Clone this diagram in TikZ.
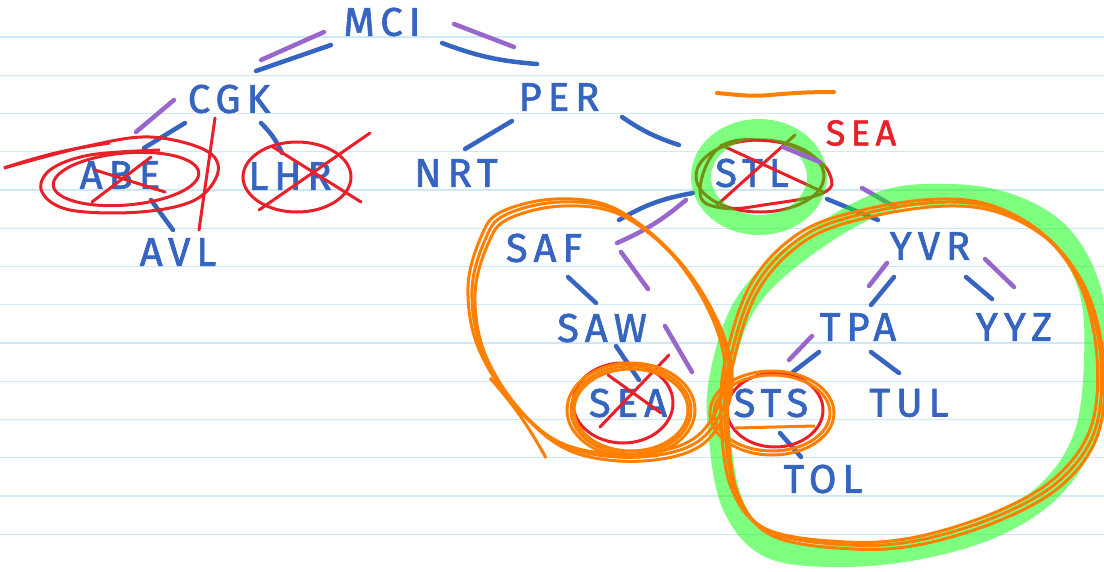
\documentclass[tikz,border=0pt]{standalone}
\usepackage{fontspec}
\newfontfamily\hand[LetterSpace=15,FakeBold=1.6]{Fira Sans}
\usetikzlibrary{calc}
\definecolor{ink}{HTML}{3565C0}
\definecolor{pen}{HTML}{9966CC}
\definecolor{redpen}{HTML}{E8202A}
\definecolor{orpen}{HTML}{FF7F00}
\definecolor{hl}{HTML}{00FF00}
\definecolor{ruleline}{HTML}{CFE8F6}
\begin{document}
\begin{tikzpicture}[x=1pt,y=-1pt,
  lbl/.style={font=\hand\fontsize{40}{40}\selectfont, text=ink, inner sep=0pt},
  redlbl/.style={font=\hand\fontsize{36}{36}\selectfont, text=redpen, inner sep=0pt},
  edge/.style={draw=ink, line width=4.5pt, line cap=round},
  trace/.style={draw=pen, line width=4.5pt, line cap=round},
  cross/.style={draw=redpen, line width=3pt, line cap=round},
  redloop/.style={draw=redpen, line width=3pt},
  orloop/.style={draw=orpen, line width=3pt},
  hilite/.style={draw=hl, draw opacity=0.5, line width=22pt}]
\useasboundingbox (0,0) rectangle (1104,571);
\fill[white] (0,0) rectangle (1104,571);
\foreach \k in {0,...,13} \draw[ruleline, line width=1.3pt] (0,{37+38.25*\k}) -- (1104,{37+38.25*\k});

% labels
\node[lbl] (MCI) at (382,22) {MCI};
\node[lbl] (CGK) at (229,99) {CGK};
\node[lbl] (PER) at (559,97) {PER};
\node[lbl] (ABE) at (120,175) {ABE};
\node[lbl] (LHR) at (290,176) {LHR};
\node[lbl] (NRT) at (456,173) {NRT};
\node[lbl] (AVL) at (178,252) {AVL};
\node[lbl] (STL) at (752,173) {STL};
\node[lbl] (SAF) at (544,248) {SAF};
\node[lbl] (SAW) at (602,328) {SAW};
\node[lbl] (SEA) at (628,403) {SEA};
\node[lbl] (YVR) at (930,246) {YVR};
\node[lbl] (TPA) at (858,327) {TPA};
\node[lbl] (YYZ) at (1014,327) {YYZ};
\node[lbl] (STS) at (771,403) {STS};
\node[lbl] (TUL) at (909,403) {TUL};
\node[lbl] (TOL) at (823,479) {TOL};
\node[redlbl] (SEAnote) at (861,133) {SEA};

% tree edges
\draw[edge] ($(MCI)+(-51,23)$) -- ($(CGK)+(27,-28)$);
\draw[edge] ($(MCI)+(60,21)$) to[bend right=8] ($(PER)+(-22,-33)$);
\draw[edge] ($(CGK)+(-44,24)$) -- ($(ABE)+(24,-27)$);
\draw[edge] ($(CGK)+(32,24)$) to[bend left=10] ($(LHR)+(-8,-23)$);
\draw[edge] ($(ABE)+(31,25)$) -- ($(AVL)+(-5,-22)$);
\draw[edge] ($(PER)+(-47,24)$) -- ($(NRT)+(9,-24)$);
\draw[edge] ($(PER)+(63,20)$) to[bend right=8] ($(STL)+(-73,-28)$);
\draw[edge] ($(STL)+(-59,20)$) to[bend right=10] ($(SAF)+(75,-28)$);
\draw[edge] ($(STL)+(75,26)$) -- ($(YVR)+(-52,-26)$);
\draw[edge] ($(SAF)+(24,29)$) -- ($(SAW)+(-6,-25)$);
\draw[edge] ($(SAW)+(14,18)$) -- ($(SEA)+(11,-23)$);
\draw[edge] ($(YVR)+(-36,31)$) -- ($(TPA)+(13,-22)$);
\draw[edge] ($(YVR)+(36,31)$) -- ($(YYZ)+(-22,-28)$);
\draw[edge] ($(TPA)+(-39,25)$) -- ($(STS)+(22,-31)$);
\draw[edge] ($(TPA)+(13,25)$) -- ($(TUL)+(-10,-30)$);
\draw[edge] ($(STS)+(9,30)$) -- ($(TOL)+(-22,-22)$);

% purple traversal marks
\draw[trace] (261,60) -- (324,32);
\draw[trace] (454,24) -- (514,47);
\draw[trace] (136,132) -- (174,100);
\draw[trace] (686,200) to[bend left=8] (617,243);
\draw[trace] (862,188) -- (895,207);
\draw[trace] (621,252) -- (648,289);
\draw[trace] (665,326) -- (692,372);
\draw[trace] (887,263) -- (869,286);
\draw[trace] (985,259) -- (1014,287);
\draw[trace] (812,336) -- (789,360);

% red marks
\draw[redloop, rotate around={5:(126,179)}] (126,179) ellipse [x radius=73, y radius=26];
\draw[redloop] plot[smooth, tension=0.6] coordinates {(4,168) (88,146) (150,137) (205,150) (218,172) (195,200) (140,212) (70,210) (42,192) (50,170) (90,155) (160,150)};
\draw[redloop] (4,168) to[bend left=5] (110,143);
\draw[cross] (92,202) -- (151,157);
\draw[cross] (95,170) -- (165,192);
\draw[cross] (215,118) -- (199,230);
\draw[redloop] (297,177) ellipse [x radius=54, y radius=35];
\draw[cross] (259,210) -- (370,133);
\draw[cross] (273,147) -- (361,202);
\draw[redloop] (760,176) ellipse [x radius=64, y radius=36];
\draw[redloop] plot[smooth cycle, tension=0.7] coordinates {(720,147) (770,141) (810,155) (830,175) (823,193) (770,204) (722,208) (700,192)};
\draw[cross] (717,205) -- (795,135);
\draw[cross] (721,145) -- (823,192);
\draw[redloop] (623,403) ellipse [x radius=50, y radius=40];
\draw[cross] (600,427) -- (669,355);
\draw[cross] (608,375) -- (661,413);
\draw[redloop] (775,410) ellipse [x radius=48, y radius=37];

% green highlights
\draw[hilite, line width=20pt] (759,177) ellipse [x radius=58, y radius=48];
\draw[trace] (783,147) -- (820,162);
\draw[hilite] plot[smooth cycle, tension=0.6] coordinates {(880,203) (949,195) (1010,205) (1060,235) (1090,290) (1095,360) (1085,435) (1050,490) (990,528) (910,550) (830,556) (768,546) (733,505) (720,440) (720,380) (745,305) (800,250)};

% orange marks
\draw[orpen, line width=4pt, line cap=round] (717,93) to[out=-5,in=185] (770,95) to[out=5,in=180] (834,92);
\foreach \dx/\dy in {0/0, -4/-3, 3/4}
  \draw[orloop, shift={(\dx,\dy)}] plot[smooth cycle, tension=0.6] coordinates {(505,215) (560,202) (620,212) (680,262) (720,330) (728,390) (700,440) (640,457) (570,448) (520,410) (482,350) (472,290) (485,240)};
\draw[orloop] (490,378) to[bend left=6] (546,458);
\foreach \dx/\dy in {0/0, -4/-3, 3/4}
  \draw[orloop, shift={(\dx,\dy)}] plot[smooth cycle, tension=0.6] coordinates {(871,212) (945,202) (1000,210) (1050,240) (1085,290) (1101,360) (1095,430) (1060,480) (1000,515) (920,540) (850,545) (770,532) (735,490) (725,420) (730,360) (756,285) (805,235)};
\foreach \r/\q in {60/44, 64/47, 57/41}
  \draw[orloop] (631,410) ellipse [x radius=\r, y radius=\q];
\foreach \r/\q in {62/42, 58/38}
  \draw[orloop] (772,413) ellipse [x radius=\r, y radius=\q];
\draw[orloop] (735,428) -- (815,426);
\end{tikzpicture}
\end{document}
